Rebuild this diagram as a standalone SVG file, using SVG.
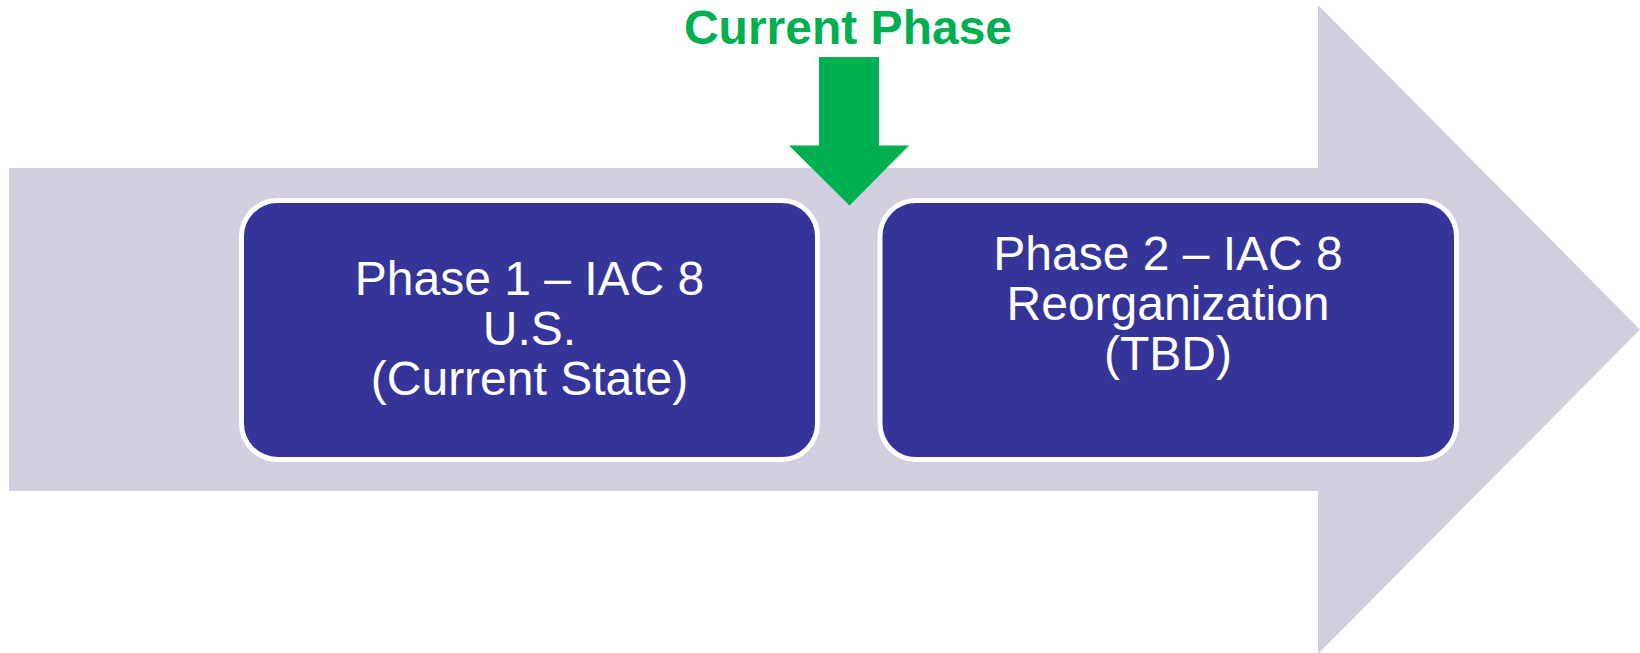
<svg xmlns="http://www.w3.org/2000/svg" width="1640" height="653" viewBox="0 0 1640 653">
  <style>
    .box { fill: #353599; stroke: #ffffff; stroke-width: 5; }
    .lbl { font-family: "Liberation Sans", Arial, sans-serif; font-size: 48px; fill: #ffffff; text-anchor: middle; }
    .title { font-family: "Liberation Sans", Arial, sans-serif; font-size: 48px; font-weight: bold; fill: #00B050; text-anchor: middle; }
  </style>
  <rect width="1640" height="653" fill="#ffffff"/>
  <g id="timeline-arrow">
    <polygon points="9,168 1318,168 1318,5 1640,329.5 1318,654 1318,491 9,491" fill="#CFCFE0"/>
  </g>
  <g id="phase1">
    <rect class="box" x="241.5" y="200.5" width="576" height="259" rx="36" ry="36"/>
    <text class="lbl" x="529.5" y="295">Phase 1 – IAC 8</text>
    <text class="lbl" x="529.5" y="345">U.S.</text>
    <text class="lbl" x="529.5" y="395">(Current State)</text>
  </g>
  <g id="phase2">
    <rect class="box" x="880" y="200.5" width="576.5" height="259" rx="36" ry="36"/>
    <text class="lbl" x="1168" y="270">Phase 2 – IAC 8</text>
    <text class="lbl" x="1168" y="320">Reorganization</text>
    <text class="lbl" x="1168" y="370">(TBD)</text>
  </g>
  <g id="current-phase">
    <text class="title" x="848" y="44">Current Phase</text>
  </g>
  <g id="connectors">
    <polygon points="819,57 879,57 879,145.5 909,145.5 849.5,205.5 789,145.5 819,145.5" fill="#00B050"/>
  </g>
</svg>
